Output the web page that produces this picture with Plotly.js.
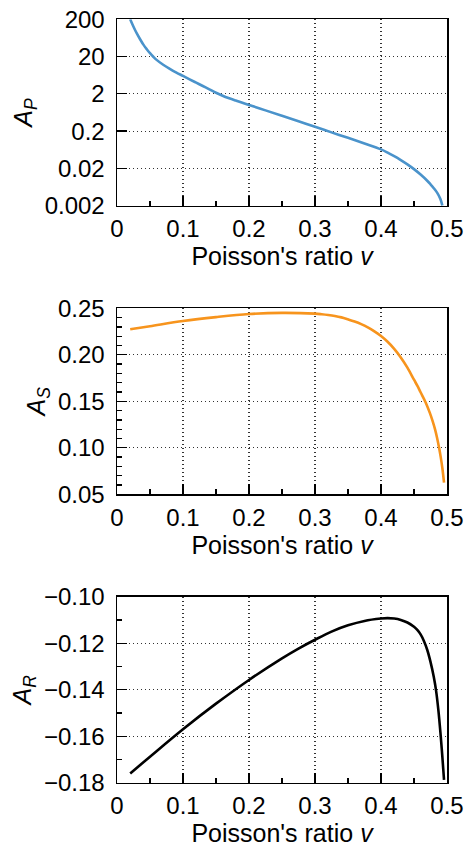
<!DOCTYPE html>
<html>
<head>
<meta charset="utf-8">
<script src="https://cdn.plot.ly/plotly-3.0.1.min.js"></script>
<style>html,body{margin:0;padding:0;background:#fff;}#chart{width:470px;height:857px;}</style>
</head>
<body>
<div id="chart"></div>
<script>
// Poisson's ratio samples and values
const nuP = [0.02,0.025,0.03,0.035,0.04,0.045,0.05,0.055,0.06,0.07,0.08,0.09,0.1,0.11,0.12,0.13,0.14,0.15,0.16,0.17,0.18,0.19,0.2,0.225,0.25,0.275,0.3,0.325,0.35,0.375,0.4,0.41,0.42,0.43,0.44,0.45,0.46,0.47,0.475,0.48,0.485,0.49,0.493];
const valP = [200,126,83.4,58.3,41.8,31.7,24.6,19.8,16.3,12.05,9.35,7.43,6.04,4.91,3.99,3.24,2.64,2.14,1.78,1.52,1.32,1.15,1.01,0.721,0.514,0.366,0.261,0.185,0.132,0.0933,0.0646,0.0531,0.0427,0.0335,0.0257,0.0191,0.01365,0.00933,0.0075,0.00589,0.00447,0.00302,0.0020];

const nuS = [0.02,0.05,0.1,0.15,0.2,0.25,0.3,0.31,0.32,0.33,0.34,0.35,0.36,0.37,0.38,0.39,0.4,0.41,0.42,0.43,0.44,0.45,0.455,0.46,0.4675,0.474,0.478,0.482,0.485,0.488,0.4905,0.493,0.4955];
const valS = [0.2274,0.2307,0.2363,0.2405,0.2438,0.2450,0.2442,0.2436,0.2428,0.2417,0.2402,0.2381,0.2358,0.2330,0.2295,0.2252,0.2202,0.2140,0.2064,0.1972,0.1862,0.1732,0.1668,0.1597,0.1490,0.1375,0.1292,0.1195,0.1105,0.1000,0.0900,0.0780,0.0625];

const nuR = [0.02,0.05,0.1,0.15,0.2,0.25,0.275,0.3,0.325,0.35,0.375,0.4,0.41,0.42,0.43,0.44,0.45,0.455,0.46,0.465,0.47,0.475,0.48,0.4835,0.487,0.4905,0.493,0.4955];
const valR = [-0.1760,-0.1688,-0.1570,-0.1460,-0.1358,-0.1265,-0.1223,-0.1185,-0.1150,-0.1123,-0.1104,-0.1094,-0.1092,-0.1094,-0.1100,-0.1111,-0.1129,-0.1143,-0.1162,-0.1190,-0.1228,-0.1280,-0.1345,-0.1405,-0.1490,-0.1600,-0.1690,-0.1788];

const xTicks = [0,0.1,0.2,0.3,0.4,0.5];
const xTickText = ['0','0.1','0.2','0.3','0.4','0.5'];
const pTicks = [0.002,0.02,0.2,2,20,200];
const pTickText = ['0.002','0.02','0.2','2','20','200'];

const FONT = 'Liberation Sans, Arial, Helvetica, sans-serif';
const xTitle = "Poisson's ratio <i>v</i>";
const TICKSIZE = 24, TITLESIZE = 25;
const GRID = {showgrid:true, gridcolor:'#333', griddash:'1px,3px', gridwidth:1.2};

function xax(anchor){
  return Object.assign({
    anchor: anchor, range: [0,0.5], tickmode:'array', tickvals:xTicks, ticktext:xTickText,
    ticks:'inside', ticklen:10, tickwidth:1.3, tickcolor:'#000',
    showline:true, mirror:true, linecolor:'#000', linewidth:1.5,
    minor:{ticks:'inside', ticklen:5, dtick:0.05, tick0:0, tickcolor:'#000', tickwidth:1.3, showgrid:false},
    tickfont:{size:TICKSIZE, color:'#000', family:FONT},
    title:{text:xTitle, font:{size:TITLESIZE, color:'#000', family:FONT}, standoff:4},
    zeroline:false, automargin:false, ticklabelstandoff:1
  }, GRID);
}
function yax(anchor, extra){
  return Object.assign({
    anchor: anchor, ticks:'inside', ticklen:10, tickwidth:1.3, tickcolor:'#000',
    showline:true, mirror:true, linecolor:'#000', linewidth:1.5,
    tickfont:{size:TICKSIZE, color:'#000', family:FONT},
    zeroline:false, automargin:false, ticklabelstandoff:6
  }, GRID, extra);
}
function ytitle(sub){
  return {text:'<i>A</i><sub><i>' + sub + '</i></sub>', font:{size:TITLESIZE, color:'#000', family:FONT}, standoff:5};
}

const data = [
  {x:nuP, y:valP, xaxis:'x', yaxis:'y', mode:'lines', line:{color:'#4a93cb', width:2.6, shape:'spline', smoothing:1}},
  {x:nuS, y:valS, xaxis:'x2', yaxis:'y2', mode:'lines', line:{color:'#f7941d', width:2.6, shape:'spline', smoothing:1}},
  {x:nuR, y:valR, xaxis:'x3', yaxis:'y3', mode:'lines', line:{color:'#000000', width:2.6, shape:'spline', smoothing:1}}
];

const layout = {
  width:470, height:857, showlegend:false,
  paper_bgcolor:'#fff', plot_bgcolor:'#fff',
  margin:{l:117, r:23, t:0, b:0},
  font:{family:FONT, color:'#000'},
  xaxis: xax('y'), xaxis2: xax('y2'), xaxis3: xax('y3'),
  yaxis: yax('x', {type:'log', domain:[0.7600,0.9775], range:[Math.log10(0.002), Math.log10(200)],
    tickmode:'array', tickvals:pTicks, ticktext:pTickText, title:ytitle('P')}),
  yaxis2: yax('x2', {domain:[0.4232,0.6403], range:[0.05,0.25], dtick:0.05, tick0:0.05, tickformat:'.2f',
    minor:{ticks:'inside', ticklen:5, dtick:0.01, tickcolor:'#000', tickwidth:1.3, showgrid:false},
    title:ytitle('S')}),
  yaxis3: yax('x3', {domain:[0.0867,0.3037], range:[-0.18,-0.10], dtick:0.02, tick0:-0.18, tickformat:'.2f',
    minor:{ticks:'inside', ticklen:5, dtick:0.01, tickcolor:'#000', tickwidth:1.3, showgrid:false},
    title:ytitle('R')})
};

Plotly.newPlot('chart', data, layout, {staticPlot:true, displayModeBar:false});
</script>
</body>
</html>
